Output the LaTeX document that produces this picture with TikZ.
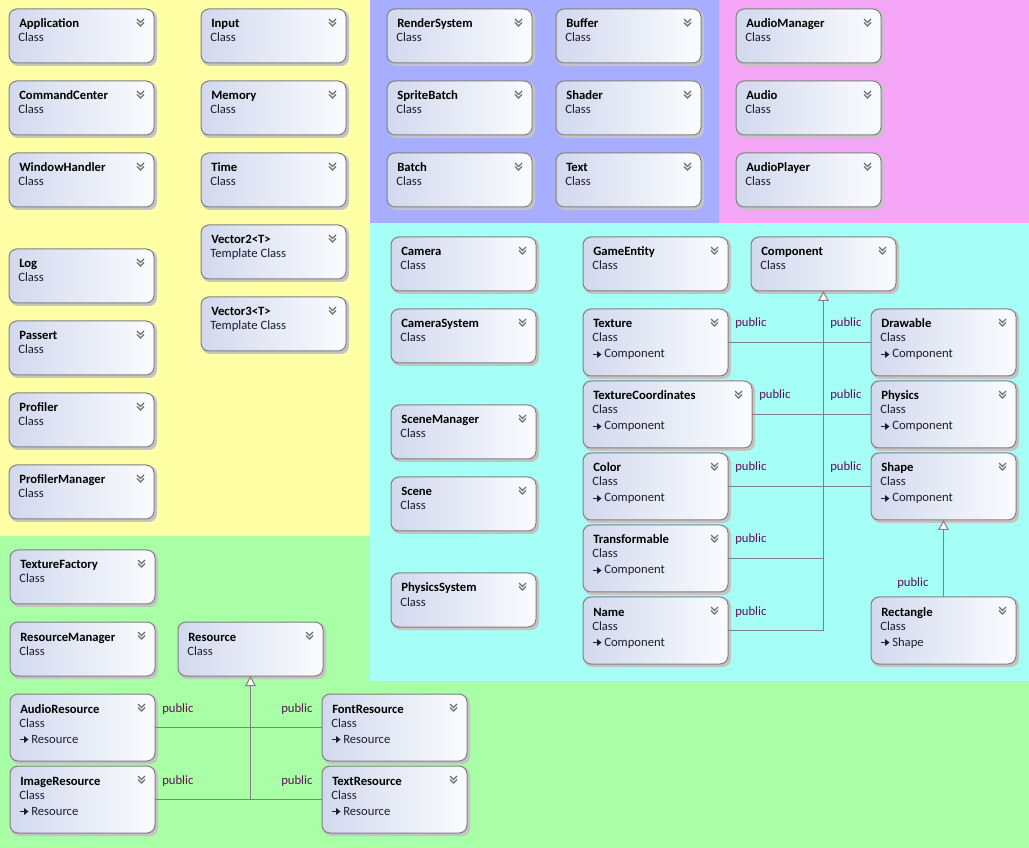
\documentclass[tikz,border=0pt]{standalone}
\usepackage{fontspec}
\setmainfont{Carlito}
\usetikzlibrary{arrows.meta}
\definecolor{ybg}{HTML}{FFFFA6}
\definecolor{bbg}{HTML}{A8AEFF}
\definecolor{pbg}{HTML}{F5A6F7}
\definecolor{cbg}{HTML}{A6FFF6}
\definecolor{gbg}{HTML}{A8FFA6}
\definecolor{boxl}{HTML}{D2D9EE}
\definecolor{boxr}{HTML}{FBFCFE}
\definecolor{boxborder}{HTML}{808080}
\definecolor{shadowc}{HTML}{C4C4C4}
\definecolor{chevc}{HTML}{707070}
\definecolor{linec}{HTML}{808080}
\definecolor{lblc}{HTML}{5E0E58}
\definecolor{subc}{HTML}{1E1E2E}
\tikzset{
 clsbox/.style={draw=boxborder, line width=0.75pt, rounded corners=6pt, left color=boxl, right color=boxr, inner sep=0pt, outer sep=0pt, anchor=north west},
 shadowbox/.style={fill=shadowc, rounded corners=6pt},
 ttl/.style={anchor=base west, inner sep=0pt, font=\fontsize{9.5}{11}\selectfont\bfseries},
 subt/.style={anchor=base west, inner sep=0pt, font=\fontsize{9.5}{11}\selectfont, text=subc},
 chev/.style={draw=chevc, line width=0.9pt},
 conn/.style={draw=linec, line width=0.75pt},
 inh/.style={conn, -{Triangle[open, fill=white, length=7.5pt, width=8pt]}},
 lbl/.style={anchor=base west, inner sep=0pt, font=\fontsize{9.5}{11}\selectfont, text=lblc},
 basearrow/.style={draw=subc, line width=0.7pt},
}
\newcommand\cls[8]{%
 \fill[shadowbox] (#2+1,#3+1) rectangle (#2+#4+3,#3+#5+3);
 \node[clsbox, minimum width={(#4)*0.75pt}, minimum height={(#5)*0.75pt}] (#1) at (#2,#3) {};
 \node[ttl] at (#2+10,#3+19) {#6};
 \node[subt] at (#2+9,#3+33) {#7};
 \draw[chev] (#2+#4-17,#3+10) -- (#2+#4-13.5,#3+13.5) -- (#2+#4-10,#3+10);
 \draw[chev] (#2+#4-17,#3+13.5) -- (#2+#4-13.5,#3+17) -- (#2+#4-10,#3+13.5);
 \if\relax\detokenize{#8}\relax\else
  \draw[basearrow] (#2+10,#3+45.5) -- (#2+15,#3+45.5);
  \fill[subc] (#2+14,#3+42) -- (#2+18.5,#3+45.5) -- (#2+14,#3+49) -- cycle;
  \node[subt] at (#2+21,#3+49) {#8};
 \fi
}
\begin{document}
\begin{tikzpicture}[x=0.75pt,y=-0.75pt]
\useasboundingbox (0,0) rectangle (1029,848);
% backgrounds
\fill[gbg] (0,0) rectangle (1029,848);
\fill[ybg] (0,0) rectangle (370,536);
\fill[bbg] (370,0) rectangle (719,223);
\fill[pbg] (719,0) rectangle (1029,223);
\fill[cbg] (370,223) rectangle (1029,681);
% yellow
\cls{Application}{9}{9}{145}{54}{Application}{Class}{}
\cls{CommandCenter}{9}{81}{145}{54}{CommandCenter}{Class}{}
\cls{WindowHandler}{9}{153}{145}{54}{WindowHandler}{Class}{}
\cls{Log}{9}{249}{145}{54}{Log}{Class}{}
\cls{Passert}{9}{321}{145}{54}{Passert}{Class}{}
\cls{Profiler}{9}{393}{145}{54}{Profiler}{Class}{}
\cls{ProfilerManager}{9}{465}{145}{54}{ProfilerManager}{Class}{}
\cls{Input}{201}{9}{145}{54}{Input}{Class}{}
\cls{Memory}{201}{81}{145}{54}{Memory}{Class}{}
\cls{Time}{201}{153}{145}{54}{Time}{Class}{}
\cls{VectorTwo}{201}{225}{145}{54}{Vector2<T>}{Template Class}{}
\cls{VectorThree}{201}{297}{145}{54}{Vector3<T>}{Template Class}{}
% blue
\cls{RenderSystem}{387}{9}{145}{54}{RenderSystem}{Class}{}
\cls{Buffer}{556}{9}{145}{54}{Buffer}{Class}{}
\cls{SpriteBatch}{387}{81}{145}{54}{SpriteBatch}{Class}{}
\cls{Shader}{556}{81}{145}{54}{Shader}{Class}{}
\cls{Batch}{387}{153}{145}{54}{Batch}{Class}{}
\cls{Text}{556}{153}{145}{54}{Text}{Class}{}
% pink
\cls{AudioManager}{736}{9}{145}{54}{AudioManager}{Class}{}
\cls{Audio}{736}{81}{145}{54}{Audio}{Class}{}
\cls{AudioPlayer}{736}{153}{145}{54}{AudioPlayer}{Class}{}
% cyan
\cls{Camera}{391}{237}{145}{54}{Camera}{Class}{}
\cls{CameraSystem}{391}{309}{145}{54}{CameraSystem}{Class}{}
\cls{SceneManager}{391}{405}{145}{54}{SceneManager}{Class}{}
\cls{Scene}{391}{477}{145}{54}{Scene}{Class}{}
\cls{PhysicsSystem}{391}{573}{145}{54}{PhysicsSystem}{Class}{}
\cls{GameEntity}{583}{237}{145}{54}{GameEntity}{Class}{}
\cls{Component}{751}{237}{145}{54}{Component}{Class}{}
\cls{Texture}{583}{309}{145}{67}{Texture}{Class}{Component}
\cls{TextureCoordinates}{583}{381}{169}{67}{TextureCoordinates}{Class}{Component}
\cls{Color}{583}{453}{145}{67}{Color}{Class}{Component}
\cls{Transformable}{583}{525}{145}{67}{Transformable}{Class}{Component}
\cls{Name}{583}{597}{145}{67}{Name}{Class}{Component}
\cls{Drawable}{871}{309}{145}{67}{Drawable}{Class}{Component}
\cls{Physics}{871}{381}{145}{67}{Physics}{Class}{Component}
\cls{Shape}{871}{453}{145}{67}{Shape}{Class}{Component}
\cls{Rectangle}{871}{597}{145}{67}{Rectangle}{Class}{Shape}
% green
\cls{TextureFactory}{10}{550}{145}{54}{TextureFactory}{Class}{}
\cls{ResourceManager}{10}{622}{145}{54}{ResourceManager}{Class}{}
\cls{Resource}{178}{622}{145}{54}{Resource}{Class}{}
\cls{AudioResource}{10}{694}{145}{67}{AudioResource}{Class}{Resource}
\cls{ImageResource}{10}{766}{145}{67}{ImageResource}{Class}{Resource}
\cls{FontResource}{322}{694}{145}{67}{FontResource}{Class}{Resource}
\cls{TextResource}{322}{766}{145}{67}{TextResource}{Class}{Resource}
% connectors (cyan)
\draw[conn] (Texture.east) -- (Drawable.west);
\draw[conn] (TextureCoordinates.east) -- (Physics.west);
\draw[conn] (Color.east) -- (Shape.west);
\draw[conn] (Transformable.east) -- (Transformable.east -| Component.south);
\draw[inh] (Name.east) -| (Component.south);
\draw[inh] (Rectangle.north) -- (Shape.south);
% connectors (green)
\draw[conn] (AudioResource.east) -- (FontResource.west);
\draw[conn] (ImageResource.east) -- (TextResource.west);
\draw[inh] (ImageResource.east -| Resource.south) -- (Resource.south);
% labels
\node[lbl] (l1) at (735,327) {public};
\node[lbl] (l2) at (830,327) {public};
\node[lbl] (l3) at (759,399) {public};
\node[lbl] (l4) at (830,399) {public};
\node[lbl] (l5) at (735,471) {public};
\node[lbl] (l6) at (830,471) {public};
\node[lbl] (l7) at (735,543) {public};
\node[lbl] (l8) at (735,615) {public};
\node[lbl] (l9) at (897,586) {public};
\node[lbl] (l10) at (162,712) {public};
\node[lbl] (l11) at (281,712) {public};
\node[lbl] (l12) at (162,784) {public};
\node[lbl] (l13) at (281,784) {public};
\end{tikzpicture}
\end{document}
